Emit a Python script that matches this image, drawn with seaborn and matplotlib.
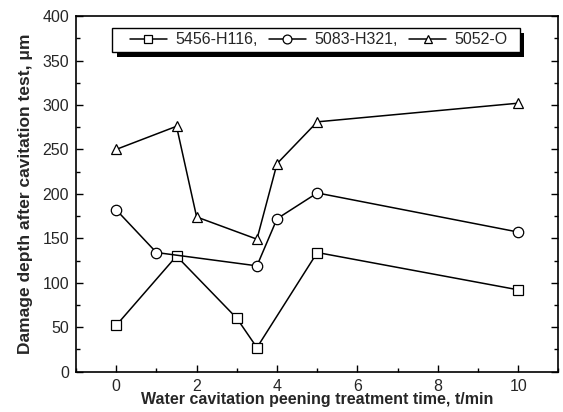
import pandas as pd
import matplotlib
matplotlib.use("Agg")
import matplotlib.pyplot as plt
from matplotlib.patches import Rectangle
from matplotlib.ticker import MultipleLocator
import seaborn as sns

# values
x_5456 = [0, 1.5, 3, 3.5, 5, 10]
y_5456 = [52, 130, 60, 27, 134, 92]
x_5083 = [0, 1, 3.5, 4, 5, 10]
y_5083 = [182, 134, 119, 172, 201, 157]
x_5052 = [0, 1.5, 2, 3.5, 4, 5, 10]
y_5052 = [250, 276, 174, 149, 234, 281, 302]
alloys = ['5456-H116,', '5083-H321,', '5052-O']

df = pd.concat([
    pd.DataFrame({'t': x_5456, 'depth': y_5456, 'alloy': alloys[0]}),
    pd.DataFrame({'t': x_5083, 'depth': y_5083, 'alloy': alloys[1]}),
    pd.DataFrame({'t': x_5052, 'depth': y_5052, 'alloy': alloys[2]}),
])

sns.set_theme(style="ticks")
plt.rcParams['font.family'] = ['Liberation Sans', 'DejaVu Sans']

fig = plt.figure(figsize=(5.63, 4.12), dpi=100)
ax = fig.add_axes([0.135, 0.098, 0.857, 0.863])

sns.lineplot(data=df, x='t', y='depth', style='alloy', hue='alloy',
             palette=['black'] * 3, markers=['s', 'o', '^'], dashes=False,
             sort=False, estimator=None, markersize=7.5, markerfacecolor='white',
             markeredgecolor='black', markeredgewidth=0.9, linewidth=1.1, ax=ax)

ax.set_xlim(-1, 11)
ax.set_ylim(0, 400)
ax.xaxis.set_major_locator(MultipleLocator(2))
ax.xaxis.set_minor_locator(MultipleLocator(1))
ax.yaxis.set_major_locator(MultipleLocator(50))
ax.yaxis.set_minor_locator(MultipleLocator(25))
ax.tick_params(which='both', direction='in', right=True, top=False, labelsize=11.5, color='black', pad=5)
ax.tick_params(which='major', length=5, width=1)
ax.tick_params(which='minor', length=3, width=1)
for s in ax.spines.values():
    s.set_linewidth(1.2)
    s.set_color('black')

ax.set_xlabel('Water cavitation peening treatment time, t/min', fontsize=11.5, fontweight='bold', labelpad=-1)
ax.set_ylabel('Damage depth after cavitation test, μm', fontsize=12.5, fontweight='bold')
ax.yaxis.set_label_coords(-0.09, 0.5)

# legend content without frame, box + shadow drawn by hand
leg = ax.legend(loc='upper left', bbox_to_anchor=(0.112, 0.954), ncol=3, fontsize=11.5,
                frameon=False, handlelength=2.3, handletextpad=0.55, columnspacing=0.7,
                borderpad=0, borderaxespad=0, markerscale=0.85)
leg.set_zorder(5)

fig.canvas.draw()
bb = leg.get_window_extent()
cy = (bb.y0 + bb.y1) / 2
h = 23.5
x0 = bb.x0 - 18
w = bb.width + 18 + 12
ax.add_patch(Rectangle((x0 + 4.5, cy - h / 2 - 5), w, h, transform=None,
                       facecolor='black', edgecolor='none', zorder=4.8, clip_on=False))
ax.add_patch(Rectangle((x0, cy - h / 2), w, h, transform=None,
                       facecolor='white', edgecolor='black', linewidth=1, zorder=4.9, clip_on=False))

fig.savefig('out.png', dpi=100)
